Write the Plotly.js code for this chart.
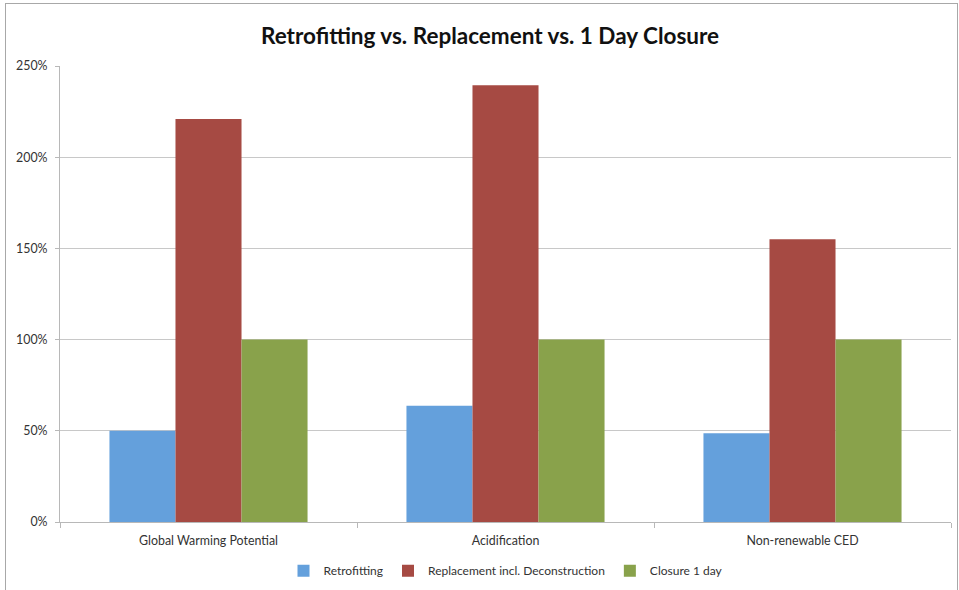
<!DOCTYPE html>
<html>
<head>
<meta charset="utf-8">
<script src="https://cdn.plot.ly/plotly-3.0.1.min.js"></script>
<style>
  html, body { margin: 0; padding: 0; background: #fff; overflow: hidden; }
  #chart { position: absolute; left: 0; top: 0; width: 959px; height: 590px; }
  #frame { position: absolute; left: 5px; top: 3px; width: 951px; height: 620px; border: 1px solid #a8a8a8; pointer-events: none; }
</style>
</head>
<body>
<div id="chart"></div>
<div id="frame"></div>
<script>
const categories = ["Global Warming Potential", "Acidification", "Non-renewable CED"];
const seriesNames = ["Retrofitting", "Replacement incl. Deconstruction", "Closure 1 day"];
const retrofitting = [0.50, 0.637, 0.486];
const replacement = [2.21, 2.395, 1.55];
const closure = [1.00, 1.00, 1.00];
const yTickVals = [0, 0.5, 1.0, 1.5, 2.0, 2.5];
const yTickText = ["0%", "50%", "100%", "150%", "200%", "250%"];
const colors = ["#64a0dc", "#a64a43", "#89a24b"];

const seriesValues = [retrofitting, replacement, closure];
const traces = seriesValues.map((vals, i) => ({
  type: "bar",
  name: seriesNames[i],
  x: categories,
  y: vals,
  marker: { color: colors[i], line: { width: 0 } },
  hoverinfo: "skip"
}));

const fontFam = "Lato, 'Open Sans', sans-serif";
const layout = {
  width: 959,
  height: 590,
  paper_bgcolor: "#ffffff",
  plot_bgcolor: "#ffffff",
  margin: { l: 60, r: 8, t: 66, b: 68, pad: 0, autoexpand: false },
  barmode: "group",
  bargap: 0.333,
  bargroupgap: 0,
  title: {
    text: "<b>Retrofitting vs. Replacement vs. 1 Day Closure</b>",
    font: { family: fontFam, size: 22.5, color: "#111111" },
    x: 0.511,
    xanchor: "center",
    y: 0.938,
    yanchor: "middle"
  },
  xaxis: {
    type: "category",
    showgrid: false,
    showline: true,
    linecolor: "#b8b8b8",
    linewidth: 1,
    ticks: "outside",
    tickson: "boundaries",
    ticklen: 5,
    tickcolor: "#b8b8b8",
    ticklabelstandoff: 7,
    tickfont: { family: fontFam, size: 12.4, color: "#333333" },
    fixedrange: true
  },
  yaxis: {
    range: [0, 2.5],
    tickvals: yTickVals,
    ticktext: yTickText,
    showgrid: true,
    gridcolor: "#c8c8c8",
    gridwidth: 1,
    showline: true,
    linecolor: "#b8b8b8",
    linewidth: 1,
    ticks: "outside",
    ticklen: 4,
    tickcolor: "#b8b8b8",
    ticklabelstandoff: 5,
    tickfont: { family: fontFam, size: 12.4, color: "#333333" },
    zeroline: false,
    fixedrange: true
  },
  showlegend: true,
  legend: {
    orientation: "h",
    x: 0.5,
    xanchor: "center",
    y: -0.107,
    yanchor: "middle",
    font: { family: fontFam, size: 12, color: "#333333" },
    itemwidth: 30,
    bgcolor: "rgba(0,0,0,0)"
  }
};

Plotly.newPlot("chart", traces, layout, { displayModeBar: false, staticPlot: true });
</script>
</body>
</html>
